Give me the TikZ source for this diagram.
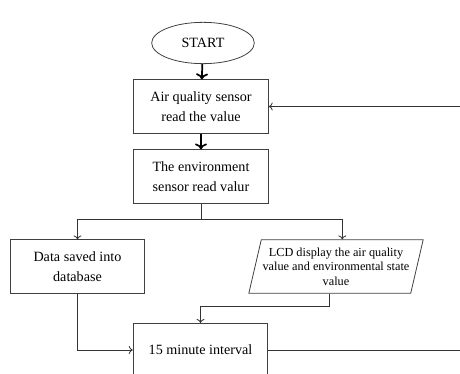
\documentclass[tikz,border=0pt]{standalone}
\usepackage{fontspec}
\setmainfont{Liberation Serif}
\usetikzlibrary{shapes.geometric, arrows.meta}

\begin{document}
\begin{tikzpicture}[x=0.75pt, y=-0.75pt,
    box/.style={draw=black!75, line width=0.6pt, minimum width=101pt, minimum height=40pt,
        align=center, inner sep=2pt, font=\fontsize{10.6}{15.5}\selectfont},
    terminal/.style={box, ellipse, minimum width=77pt, minimum height=31pt},
    io/.style={box, trapezium, trapezium left angle=73, trapezium right angle=107,
        trapezium stretches, minimum width=118.5pt, inner sep=1pt,
        font=\fontsize{9.2}{11}\selectfont},
    flow/.style={draw=black!80, line width=0.6pt, -{To[length=3pt,width=6pt]}},
    mainflow/.style={draw=black, line width=1.3pt, -{To[length=4.5pt,width=9pt]}}]
    \useasboundingbox (0,0) rectangle (460,374);
    \clip (0,0) rectangle (460,374);

    % boxes
    \node[terminal] (start) at (203,43) {START};
    \node[box] (air) at (201,106.5) {Air quality sensor\\read the value};
    \node[box] (env) at (201,176.5) {The environment\\sensor read valur};
    \node[box] (save) at (77.5,266.5) {Data saved into\\database};
    \node[io] (lcd) at (336,266.5) {LCD display the air quality\\value and environmental state\\value};
    \node[box] (wait) at (200.5,350) {15 minute interval};

    % arrows
    \draw[mainflow] (start) -- (air);
    \draw[mainflow] (air) -- (env);
    \draw[flow] (env.south) -- ++(0,16) coordinate (split) -| (save.north);
    \draw[flow] (split) -| (lcd.top side);
    \draw[flow] (lcd.bottom side) -- ++(0,13) -| (wait.north);
    \draw[flow] (save.south) |- (wait.west);

    % loop back to the sensor
    \coordinate (back) at (466,350);
    \draw[flow] (wait.east) -- (back) |- (air.east);
\end{tikzpicture}
\end{document}
